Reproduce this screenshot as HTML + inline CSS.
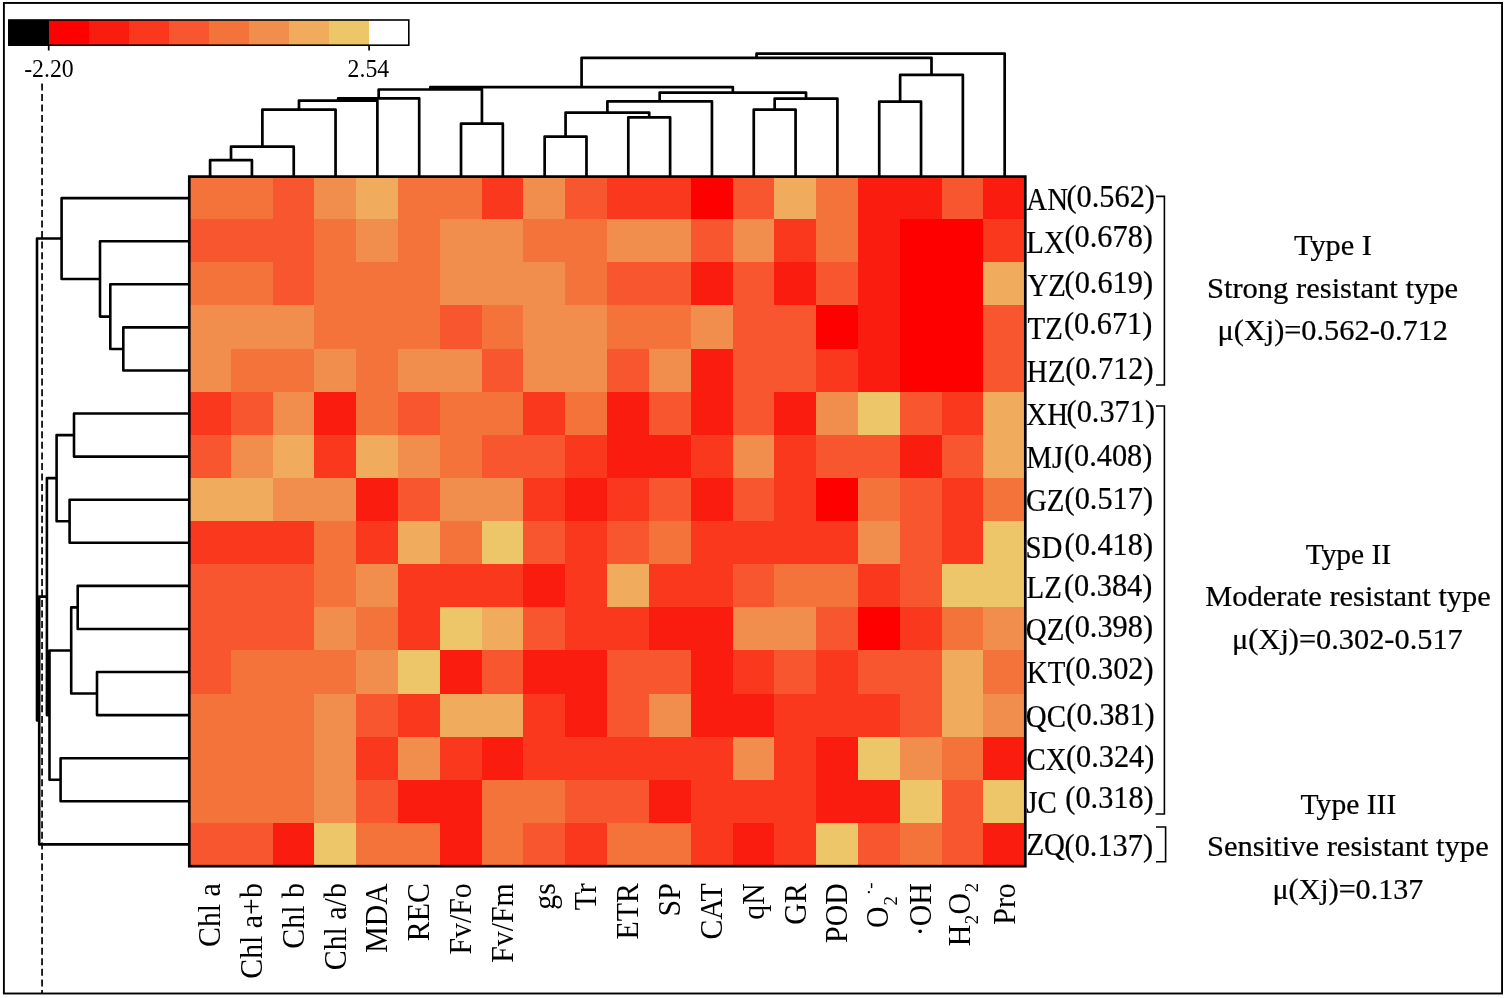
<!DOCTYPE html>
<html lang="en">
<head>
<meta charset="utf-8">
<title>Cluster heat map</title>
<style>html,body{margin:0;padding:0;background:#fff}svg{display:block}text{white-space:pre}</style>
</head>
<body>
<svg width="1505" height="998" viewBox="0 0 1505 998" font-family='"Liberation Serif", "DejaVu Serif", serif' fill="#000">
<rect x="0" y="0" width="1505" height="998" fill="#fff"/>
<rect x="3.9" y="2.95" width="1498.15" height="990.55" fill="none" stroke="#000" stroke-width="1.9"/>
<g shape-rendering="crispEdges">
<rect x="8.43" y="20.0" width="40.37" height="25.20" fill="#000000"/>
<rect x="48.50" y="20.0" width="40.37" height="25.20" fill="#ff0000"/>
<rect x="88.57" y="20.0" width="40.37" height="25.20" fill="#fb1c10"/>
<rect x="128.64" y="20.0" width="40.37" height="25.20" fill="#fa381e"/>
<rect x="168.71" y="20.0" width="40.37" height="25.20" fill="#f7562e"/>
<rect x="208.78" y="20.0" width="40.37" height="25.20" fill="#f4733b"/>
<rect x="248.86" y="20.0" width="40.37" height="25.20" fill="#f28e4d"/>
<rect x="288.93" y="20.0" width="40.37" height="25.20" fill="#f1ab5c"/>
<rect x="329.00" y="20.0" width="40.37" height="25.20" fill="#edc669"/>
<rect x="369.07" y="20.0" width="40.37" height="25.20" fill="#ffffff"/>
</g>
<rect x="8.9" y="20.0" width="399.90" height="25.20" fill="none" stroke="#000" stroke-width="1.6"/>
<path d="M48.7 45.2V50.6M369.1 45.2V50.6" stroke="#000" stroke-width="1.7" fill="none"/>
<text transform="translate(24.20 76.75) scale(0.915 1)" font-size="26.0">-2.20</text>
<text transform="translate(347.60 76.75) scale(0.915 1)" font-size="26.0">2.54</text>
<path d="M42.05 83.5V994" stroke="#000" stroke-width="1.7" stroke-dasharray="7 3.54" fill="none"/>
<g shape-rendering="crispEdges">
<rect x="189.00" y="176.00" width="84.12" height="43.63" fill="#f4733b"/>
<rect x="272.62" y="176.00" width="42.31" height="43.63" fill="#f7562e"/>
<rect x="314.43" y="176.00" width="42.31" height="43.63" fill="#f28e4d"/>
<rect x="356.24" y="176.00" width="42.31" height="43.63" fill="#f1ab5c"/>
<rect x="398.05" y="176.00" width="84.12" height="43.63" fill="#f4733b"/>
<rect x="481.67" y="176.00" width="42.31" height="43.63" fill="#fa381e"/>
<rect x="523.48" y="176.00" width="42.31" height="43.63" fill="#f28e4d"/>
<rect x="565.29" y="176.00" width="42.31" height="43.63" fill="#f7562e"/>
<rect x="607.10" y="176.00" width="84.12" height="43.63" fill="#fa381e"/>
<rect x="690.72" y="176.00" width="42.31" height="43.63" fill="#ff0000"/>
<rect x="732.53" y="176.00" width="42.31" height="43.63" fill="#f7562e"/>
<rect x="774.34" y="176.00" width="42.31" height="43.63" fill="#f1ab5c"/>
<rect x="816.15" y="176.00" width="42.31" height="43.63" fill="#f4733b"/>
<rect x="857.96" y="176.00" width="84.12" height="43.63" fill="#fb1c10"/>
<rect x="941.58" y="176.00" width="42.31" height="43.63" fill="#f7562e"/>
<rect x="983.39" y="176.00" width="42.31" height="43.63" fill="#fb1c10"/>
<rect x="189.00" y="219.13" width="125.93" height="43.63" fill="#f7562e"/>
<rect x="314.43" y="219.13" width="42.31" height="43.63" fill="#f4733b"/>
<rect x="356.24" y="219.13" width="42.31" height="43.63" fill="#f28e4d"/>
<rect x="398.05" y="219.13" width="42.31" height="43.63" fill="#f4733b"/>
<rect x="439.86" y="219.13" width="84.12" height="43.63" fill="#f28e4d"/>
<rect x="523.48" y="219.13" width="84.12" height="43.63" fill="#f4733b"/>
<rect x="607.10" y="219.13" width="84.12" height="43.63" fill="#f28e4d"/>
<rect x="690.72" y="219.13" width="42.31" height="43.63" fill="#f7562e"/>
<rect x="732.53" y="219.13" width="42.31" height="43.63" fill="#f28e4d"/>
<rect x="774.34" y="219.13" width="42.31" height="43.63" fill="#fa381e"/>
<rect x="816.15" y="219.13" width="42.31" height="43.63" fill="#f4733b"/>
<rect x="857.96" y="219.13" width="42.31" height="43.63" fill="#fb1c10"/>
<rect x="899.77" y="219.13" width="84.12" height="43.63" fill="#ff0000"/>
<rect x="983.39" y="219.13" width="42.31" height="43.63" fill="#fa381e"/>
<rect x="189.00" y="262.26" width="84.12" height="43.63" fill="#f4733b"/>
<rect x="272.62" y="262.26" width="42.31" height="43.63" fill="#f7562e"/>
<rect x="314.43" y="262.26" width="125.93" height="43.63" fill="#f4733b"/>
<rect x="439.86" y="262.26" width="125.93" height="43.63" fill="#f28e4d"/>
<rect x="565.29" y="262.26" width="42.31" height="43.63" fill="#f4733b"/>
<rect x="607.10" y="262.26" width="84.12" height="43.63" fill="#f7562e"/>
<rect x="690.72" y="262.26" width="42.31" height="43.63" fill="#fb1c10"/>
<rect x="732.53" y="262.26" width="42.31" height="43.63" fill="#f7562e"/>
<rect x="774.34" y="262.26" width="42.31" height="43.63" fill="#fb1c10"/>
<rect x="816.15" y="262.26" width="42.31" height="43.63" fill="#f7562e"/>
<rect x="857.96" y="262.26" width="42.31" height="43.63" fill="#fb1c10"/>
<rect x="899.77" y="262.26" width="84.12" height="43.63" fill="#ff0000"/>
<rect x="983.39" y="262.26" width="42.31" height="43.63" fill="#f1ab5c"/>
<rect x="189.00" y="305.39" width="125.93" height="43.63" fill="#f28e4d"/>
<rect x="314.43" y="305.39" width="125.93" height="43.63" fill="#f4733b"/>
<rect x="439.86" y="305.39" width="42.31" height="43.63" fill="#f7562e"/>
<rect x="481.67" y="305.39" width="42.31" height="43.63" fill="#f4733b"/>
<rect x="523.48" y="305.39" width="84.12" height="43.63" fill="#f28e4d"/>
<rect x="607.10" y="305.39" width="84.12" height="43.63" fill="#f4733b"/>
<rect x="690.72" y="305.39" width="42.31" height="43.63" fill="#f28e4d"/>
<rect x="732.53" y="305.39" width="84.12" height="43.63" fill="#f7562e"/>
<rect x="816.15" y="305.39" width="42.31" height="43.63" fill="#ff0000"/>
<rect x="857.96" y="305.39" width="42.31" height="43.63" fill="#fb1c10"/>
<rect x="899.77" y="305.39" width="84.12" height="43.63" fill="#ff0000"/>
<rect x="983.39" y="305.39" width="42.31" height="43.63" fill="#f7562e"/>
<rect x="189.00" y="348.52" width="42.31" height="43.63" fill="#f28e4d"/>
<rect x="230.81" y="348.52" width="84.12" height="43.63" fill="#f4733b"/>
<rect x="314.43" y="348.52" width="42.31" height="43.63" fill="#f28e4d"/>
<rect x="356.24" y="348.52" width="42.31" height="43.63" fill="#f4733b"/>
<rect x="398.05" y="348.52" width="84.12" height="43.63" fill="#f28e4d"/>
<rect x="481.67" y="348.52" width="42.31" height="43.63" fill="#f7562e"/>
<rect x="523.48" y="348.52" width="84.12" height="43.63" fill="#f28e4d"/>
<rect x="607.10" y="348.52" width="42.31" height="43.63" fill="#f7562e"/>
<rect x="648.91" y="348.52" width="42.31" height="43.63" fill="#f28e4d"/>
<rect x="690.72" y="348.52" width="42.31" height="43.63" fill="#fb1c10"/>
<rect x="732.53" y="348.52" width="84.12" height="43.63" fill="#f7562e"/>
<rect x="816.15" y="348.52" width="42.31" height="43.63" fill="#fa381e"/>
<rect x="857.96" y="348.52" width="42.31" height="43.63" fill="#fb1c10"/>
<rect x="899.77" y="348.52" width="84.12" height="43.63" fill="#ff0000"/>
<rect x="983.39" y="348.52" width="42.31" height="43.63" fill="#f7562e"/>
<rect x="189.00" y="391.66" width="42.31" height="43.63" fill="#fa381e"/>
<rect x="230.81" y="391.66" width="42.31" height="43.63" fill="#f7562e"/>
<rect x="272.62" y="391.66" width="42.31" height="43.63" fill="#f28e4d"/>
<rect x="314.43" y="391.66" width="42.31" height="43.63" fill="#fb1c10"/>
<rect x="356.24" y="391.66" width="42.31" height="43.63" fill="#f4733b"/>
<rect x="398.05" y="391.66" width="42.31" height="43.63" fill="#f7562e"/>
<rect x="439.86" y="391.66" width="84.12" height="43.63" fill="#f4733b"/>
<rect x="523.48" y="391.66" width="42.31" height="43.63" fill="#fa381e"/>
<rect x="565.29" y="391.66" width="42.31" height="43.63" fill="#f4733b"/>
<rect x="607.10" y="391.66" width="42.31" height="43.63" fill="#fb1c10"/>
<rect x="648.91" y="391.66" width="42.31" height="43.63" fill="#f7562e"/>
<rect x="690.72" y="391.66" width="42.31" height="43.63" fill="#fb1c10"/>
<rect x="732.53" y="391.66" width="42.31" height="43.63" fill="#f7562e"/>
<rect x="774.34" y="391.66" width="42.31" height="43.63" fill="#fb1c10"/>
<rect x="816.15" y="391.66" width="42.31" height="43.63" fill="#f28e4d"/>
<rect x="857.96" y="391.66" width="42.31" height="43.63" fill="#edc669"/>
<rect x="899.77" y="391.66" width="42.31" height="43.63" fill="#f7562e"/>
<rect x="941.58" y="391.66" width="42.31" height="43.63" fill="#fa381e"/>
<rect x="983.39" y="391.66" width="42.31" height="43.63" fill="#f1ab5c"/>
<rect x="189.00" y="434.79" width="42.31" height="43.63" fill="#f7562e"/>
<rect x="230.81" y="434.79" width="42.31" height="43.63" fill="#f28e4d"/>
<rect x="272.62" y="434.79" width="42.31" height="43.63" fill="#f1ab5c"/>
<rect x="314.43" y="434.79" width="42.31" height="43.63" fill="#fa381e"/>
<rect x="356.24" y="434.79" width="42.31" height="43.63" fill="#f1ab5c"/>
<rect x="398.05" y="434.79" width="42.31" height="43.63" fill="#f28e4d"/>
<rect x="439.86" y="434.79" width="42.31" height="43.63" fill="#f4733b"/>
<rect x="481.67" y="434.79" width="84.12" height="43.63" fill="#f7562e"/>
<rect x="565.29" y="434.79" width="42.31" height="43.63" fill="#fa381e"/>
<rect x="607.10" y="434.79" width="84.12" height="43.63" fill="#fb1c10"/>
<rect x="690.72" y="434.79" width="42.31" height="43.63" fill="#fa381e"/>
<rect x="732.53" y="434.79" width="42.31" height="43.63" fill="#f28e4d"/>
<rect x="774.34" y="434.79" width="42.31" height="43.63" fill="#fa381e"/>
<rect x="816.15" y="434.79" width="84.12" height="43.63" fill="#f7562e"/>
<rect x="899.77" y="434.79" width="42.31" height="43.63" fill="#fb1c10"/>
<rect x="941.58" y="434.79" width="42.31" height="43.63" fill="#f7562e"/>
<rect x="983.39" y="434.79" width="42.31" height="43.63" fill="#f1ab5c"/>
<rect x="189.00" y="477.92" width="84.12" height="43.63" fill="#f1ab5c"/>
<rect x="272.62" y="477.92" width="84.12" height="43.63" fill="#f28e4d"/>
<rect x="356.24" y="477.92" width="42.31" height="43.63" fill="#fb1c10"/>
<rect x="398.05" y="477.92" width="42.31" height="43.63" fill="#f7562e"/>
<rect x="439.86" y="477.92" width="84.12" height="43.63" fill="#f28e4d"/>
<rect x="523.48" y="477.92" width="42.31" height="43.63" fill="#fa381e"/>
<rect x="565.29" y="477.92" width="42.31" height="43.63" fill="#fb1c10"/>
<rect x="607.10" y="477.92" width="42.31" height="43.63" fill="#fa381e"/>
<rect x="648.91" y="477.92" width="42.31" height="43.63" fill="#f7562e"/>
<rect x="690.72" y="477.92" width="42.31" height="43.63" fill="#fb1c10"/>
<rect x="732.53" y="477.92" width="42.31" height="43.63" fill="#f7562e"/>
<rect x="774.34" y="477.92" width="42.31" height="43.63" fill="#fa381e"/>
<rect x="816.15" y="477.92" width="42.31" height="43.63" fill="#ff0000"/>
<rect x="857.96" y="477.92" width="42.31" height="43.63" fill="#f4733b"/>
<rect x="899.77" y="477.92" width="42.31" height="43.63" fill="#f7562e"/>
<rect x="941.58" y="477.92" width="42.31" height="43.63" fill="#fa381e"/>
<rect x="983.39" y="477.92" width="42.31" height="43.63" fill="#f4733b"/>
<rect x="189.00" y="521.05" width="125.93" height="43.63" fill="#fa381e"/>
<rect x="314.43" y="521.05" width="42.31" height="43.63" fill="#f4733b"/>
<rect x="356.24" y="521.05" width="42.31" height="43.63" fill="#fa381e"/>
<rect x="398.05" y="521.05" width="42.31" height="43.63" fill="#f1ab5c"/>
<rect x="439.86" y="521.05" width="42.31" height="43.63" fill="#f4733b"/>
<rect x="481.67" y="521.05" width="42.31" height="43.63" fill="#edc669"/>
<rect x="523.48" y="521.05" width="42.31" height="43.63" fill="#f7562e"/>
<rect x="565.29" y="521.05" width="42.31" height="43.63" fill="#fa381e"/>
<rect x="607.10" y="521.05" width="42.31" height="43.63" fill="#f7562e"/>
<rect x="648.91" y="521.05" width="42.31" height="43.63" fill="#f4733b"/>
<rect x="690.72" y="521.05" width="167.74" height="43.63" fill="#fa381e"/>
<rect x="857.96" y="521.05" width="42.31" height="43.63" fill="#f28e4d"/>
<rect x="899.77" y="521.05" width="42.31" height="43.63" fill="#f7562e"/>
<rect x="941.58" y="521.05" width="42.31" height="43.63" fill="#fa381e"/>
<rect x="983.39" y="521.05" width="42.31" height="43.63" fill="#edc669"/>
<rect x="189.00" y="564.18" width="125.93" height="43.63" fill="#f7562e"/>
<rect x="314.43" y="564.18" width="42.31" height="43.63" fill="#f4733b"/>
<rect x="356.24" y="564.18" width="42.31" height="43.63" fill="#f28e4d"/>
<rect x="398.05" y="564.18" width="125.93" height="43.63" fill="#fa381e"/>
<rect x="523.48" y="564.18" width="42.31" height="43.63" fill="#fb1c10"/>
<rect x="565.29" y="564.18" width="42.31" height="43.63" fill="#fa381e"/>
<rect x="607.10" y="564.18" width="42.31" height="43.63" fill="#f1ab5c"/>
<rect x="648.91" y="564.18" width="84.12" height="43.63" fill="#fa381e"/>
<rect x="732.53" y="564.18" width="42.31" height="43.63" fill="#f7562e"/>
<rect x="774.34" y="564.18" width="84.12" height="43.63" fill="#f4733b"/>
<rect x="857.96" y="564.18" width="42.31" height="43.63" fill="#fa381e"/>
<rect x="899.77" y="564.18" width="42.31" height="43.63" fill="#f7562e"/>
<rect x="941.58" y="564.18" width="84.12" height="43.63" fill="#edc669"/>
<rect x="189.00" y="607.31" width="125.93" height="43.63" fill="#f7562e"/>
<rect x="314.43" y="607.31" width="42.31" height="43.63" fill="#f28e4d"/>
<rect x="356.24" y="607.31" width="42.31" height="43.63" fill="#f4733b"/>
<rect x="398.05" y="607.31" width="42.31" height="43.63" fill="#fa381e"/>
<rect x="439.86" y="607.31" width="42.31" height="43.63" fill="#edc669"/>
<rect x="481.67" y="607.31" width="42.31" height="43.63" fill="#f1ab5c"/>
<rect x="523.48" y="607.31" width="42.31" height="43.63" fill="#f7562e"/>
<rect x="565.29" y="607.31" width="84.12" height="43.63" fill="#fa381e"/>
<rect x="648.91" y="607.31" width="84.12" height="43.63" fill="#fb1c10"/>
<rect x="732.53" y="607.31" width="84.12" height="43.63" fill="#f28e4d"/>
<rect x="816.15" y="607.31" width="42.31" height="43.63" fill="#f7562e"/>
<rect x="857.96" y="607.31" width="42.31" height="43.63" fill="#ff0000"/>
<rect x="899.77" y="607.31" width="42.31" height="43.63" fill="#fa381e"/>
<rect x="941.58" y="607.31" width="42.31" height="43.63" fill="#f4733b"/>
<rect x="983.39" y="607.31" width="42.31" height="43.63" fill="#f28e4d"/>
<rect x="189.00" y="650.44" width="42.31" height="43.63" fill="#f7562e"/>
<rect x="230.81" y="650.44" width="125.93" height="43.63" fill="#f4733b"/>
<rect x="356.24" y="650.44" width="42.31" height="43.63" fill="#f28e4d"/>
<rect x="398.05" y="650.44" width="42.31" height="43.63" fill="#edc669"/>
<rect x="439.86" y="650.44" width="42.31" height="43.63" fill="#fb1c10"/>
<rect x="481.67" y="650.44" width="42.31" height="43.63" fill="#f7562e"/>
<rect x="523.48" y="650.44" width="84.12" height="43.63" fill="#fb1c10"/>
<rect x="607.10" y="650.44" width="84.12" height="43.63" fill="#f7562e"/>
<rect x="690.72" y="650.44" width="42.31" height="43.63" fill="#fb1c10"/>
<rect x="732.53" y="650.44" width="42.31" height="43.63" fill="#fa381e"/>
<rect x="774.34" y="650.44" width="42.31" height="43.63" fill="#f7562e"/>
<rect x="816.15" y="650.44" width="42.31" height="43.63" fill="#fa381e"/>
<rect x="857.96" y="650.44" width="84.12" height="43.63" fill="#f7562e"/>
<rect x="941.58" y="650.44" width="42.31" height="43.63" fill="#f1ab5c"/>
<rect x="983.39" y="650.44" width="42.31" height="43.63" fill="#f4733b"/>
<rect x="189.00" y="693.58" width="125.93" height="43.63" fill="#f4733b"/>
<rect x="314.43" y="693.58" width="42.31" height="43.63" fill="#f28e4d"/>
<rect x="356.24" y="693.58" width="42.31" height="43.63" fill="#f7562e"/>
<rect x="398.05" y="693.58" width="42.31" height="43.63" fill="#fa381e"/>
<rect x="439.86" y="693.58" width="84.12" height="43.63" fill="#f1ab5c"/>
<rect x="523.48" y="693.58" width="42.31" height="43.63" fill="#fa381e"/>
<rect x="565.29" y="693.58" width="42.31" height="43.63" fill="#fb1c10"/>
<rect x="607.10" y="693.58" width="42.31" height="43.63" fill="#f7562e"/>
<rect x="648.91" y="693.58" width="42.31" height="43.63" fill="#f28e4d"/>
<rect x="690.72" y="693.58" width="84.12" height="43.63" fill="#fb1c10"/>
<rect x="774.34" y="693.58" width="125.93" height="43.63" fill="#fa381e"/>
<rect x="899.77" y="693.58" width="42.31" height="43.63" fill="#f7562e"/>
<rect x="941.58" y="693.58" width="42.31" height="43.63" fill="#f1ab5c"/>
<rect x="983.39" y="693.58" width="42.31" height="43.63" fill="#f28e4d"/>
<rect x="189.00" y="736.71" width="125.93" height="43.63" fill="#f4733b"/>
<rect x="314.43" y="736.71" width="42.31" height="43.63" fill="#f28e4d"/>
<rect x="356.24" y="736.71" width="42.31" height="43.63" fill="#fa381e"/>
<rect x="398.05" y="736.71" width="42.31" height="43.63" fill="#f28e4d"/>
<rect x="439.86" y="736.71" width="42.31" height="43.63" fill="#fa381e"/>
<rect x="481.67" y="736.71" width="42.31" height="43.63" fill="#fb1c10"/>
<rect x="523.48" y="736.71" width="209.55" height="43.63" fill="#fa381e"/>
<rect x="732.53" y="736.71" width="42.31" height="43.63" fill="#f28e4d"/>
<rect x="774.34" y="736.71" width="42.31" height="43.63" fill="#fa381e"/>
<rect x="816.15" y="736.71" width="42.31" height="43.63" fill="#fb1c10"/>
<rect x="857.96" y="736.71" width="42.31" height="43.63" fill="#edc669"/>
<rect x="899.77" y="736.71" width="42.31" height="43.63" fill="#f28e4d"/>
<rect x="941.58" y="736.71" width="42.31" height="43.63" fill="#f4733b"/>
<rect x="983.39" y="736.71" width="42.31" height="43.63" fill="#fb1c10"/>
<rect x="189.00" y="779.84" width="125.93" height="43.63" fill="#f4733b"/>
<rect x="314.43" y="779.84" width="42.31" height="43.63" fill="#f28e4d"/>
<rect x="356.24" y="779.84" width="42.31" height="43.63" fill="#f7562e"/>
<rect x="398.05" y="779.84" width="84.12" height="43.63" fill="#fb1c10"/>
<rect x="481.67" y="779.84" width="84.12" height="43.63" fill="#f4733b"/>
<rect x="565.29" y="779.84" width="84.12" height="43.63" fill="#f7562e"/>
<rect x="648.91" y="779.84" width="42.31" height="43.63" fill="#fb1c10"/>
<rect x="690.72" y="779.84" width="125.93" height="43.63" fill="#fa381e"/>
<rect x="816.15" y="779.84" width="84.12" height="43.63" fill="#fb1c10"/>
<rect x="899.77" y="779.84" width="42.31" height="43.63" fill="#edc669"/>
<rect x="941.58" y="779.84" width="42.31" height="43.63" fill="#f7562e"/>
<rect x="983.39" y="779.84" width="42.31" height="43.63" fill="#edc669"/>
<rect x="189.00" y="822.97" width="84.12" height="43.63" fill="#f7562e"/>
<rect x="272.62" y="822.97" width="42.31" height="43.63" fill="#fb1c10"/>
<rect x="314.43" y="822.97" width="42.31" height="43.63" fill="#edc669"/>
<rect x="356.24" y="822.97" width="84.12" height="43.63" fill="#f4733b"/>
<rect x="439.86" y="822.97" width="42.31" height="43.63" fill="#fb1c10"/>
<rect x="481.67" y="822.97" width="42.31" height="43.63" fill="#f4733b"/>
<rect x="523.48" y="822.97" width="42.31" height="43.63" fill="#f7562e"/>
<rect x="565.29" y="822.97" width="42.31" height="43.63" fill="#fa381e"/>
<rect x="607.10" y="822.97" width="84.12" height="43.63" fill="#f4733b"/>
<rect x="690.72" y="822.97" width="42.31" height="43.63" fill="#fa381e"/>
<rect x="732.53" y="822.97" width="42.31" height="43.63" fill="#fb1c10"/>
<rect x="774.34" y="822.97" width="42.31" height="43.63" fill="#fa381e"/>
<rect x="816.15" y="822.97" width="42.31" height="43.63" fill="#edc669"/>
<rect x="857.96" y="822.97" width="42.31" height="43.63" fill="#f7562e"/>
<rect x="899.77" y="822.97" width="42.31" height="43.63" fill="#f4733b"/>
<rect x="941.58" y="822.97" width="42.31" height="43.63" fill="#f7562e"/>
<rect x="983.39" y="822.97" width="42.31" height="43.63" fill="#fb1c10"/>
</g>
<rect x="189.3" y="176.6" width="836.0" height="689.6" fill="none" stroke="#000" stroke-width="2.7"/>
<path d="M210.10 176.00V160.10H251.92V176.00M231.01 160.10V146.70H293.74V176.00M262.38 146.70V109.60H335.56V176.00M298.97 109.60V100.60H377.38V176.00M338.17 100.60V98.30H419.20V176.00M461.02 176.00V123.70H502.84V176.00M378.69 98.30V89.50H481.93V123.70M544.66 176.00V136.60H586.48V176.00M628.30 176.00V117.30H670.12V176.00M565.57 136.60V112.60H649.21V117.30M607.39 112.60V101.30H711.94V176.00M753.76 176.00V109.70H795.58V176.00M774.67 109.70V98.60H837.40V176.00M659.66 101.30V92.70H806.04V98.60M430.31 89.50V87.20H732.85V92.70M879.22 176.00V101.70H921.04V176.00M900.13 101.70V74.90H962.86V176.00M581.58 87.20V57.80H931.50V74.90M756.54 57.80V53.60H1004.68V176.00" fill="none" stroke="#000" stroke-width="2.7" stroke-linejoin="round"/>
<path d="M189.00 327.39H123.30V370.47H189.00M189.00 284.31H110.30V348.93H123.30M189.00 241.23H100.00V316.62H110.30M189.00 198.15H61.60V278.93H100.00M189.00 413.55H74.00V456.63H189.00M189.00 499.71H69.60V542.79H189.00M74.00 435.09H56.60V521.25H69.60M189.00 585.87H77.70V628.95H189.00M189.00 672.03H97.00V715.11H189.00M77.70 607.41H71.20V693.57H97.00M189.00 758.19H60.60V801.27H189.00M71.20 650.49H49.50V779.73H60.60M56.60 478.17H46.90V715.11H49.50M46.90 596.64H39.20V844.35H189.00M61.60 238.54H37.00V720.49H39.20" fill="none" stroke="#000" stroke-width="2.6" stroke-linejoin="round"/>
<text transform="translate(1026.30 209.80) scale(0.925 1)" font-size="31.2" stroke="#000" stroke-width="0.24">AN</text>
<text transform="translate(1066.50 206.60) scale(0.978 1)" font-size="31" stroke="#000" stroke-width="0.24">(0.562)</text>
<text transform="translate(1026.30 252.70) scale(0.925 1)" font-size="31.2" stroke="#000" stroke-width="0.24">LX</text>
<text transform="translate(1064.50 246.50) scale(0.978 1)" font-size="31" stroke="#000" stroke-width="0.24">(0.678)</text>
<text transform="translate(1027.50 296.00) scale(0.925 1)" font-size="31.2" stroke="#000" stroke-width="0.24">YZ</text>
<text transform="translate(1064.60 293.00) scale(0.978 1)" font-size="31" stroke="#000" stroke-width="0.24">(0.619)</text>
<text transform="translate(1027.50 338.90) scale(0.925 1)" font-size="31.2" stroke="#000" stroke-width="0.24">TZ</text>
<text transform="translate(1063.90 333.70) scale(0.978 1)" font-size="31" stroke="#000" stroke-width="0.24">(0.671)</text>
<text transform="translate(1026.80 381.90) scale(0.925 1)" font-size="31.2" stroke="#000" stroke-width="0.24">HZ</text>
<text transform="translate(1065.20 379.00) scale(0.978 1)" font-size="31" stroke="#000" stroke-width="0.24">(0.712)</text>
<text transform="translate(1026.30 425.00) scale(0.925 1)" font-size="31.2" stroke="#000" stroke-width="0.24">XH</text>
<text transform="translate(1066.60 421.70) scale(0.978 1)" font-size="31" stroke="#000" stroke-width="0.24">(0.371)</text>
<text transform="translate(1026.30 468.30) scale(0.925 1)" font-size="31.2" stroke="#000" stroke-width="0.24">MJ</text>
<text transform="translate(1063.90 465.80) scale(0.978 1)" font-size="31" stroke="#000" stroke-width="0.24">(0.408)</text>
<text transform="translate(1026.00 511.00) scale(0.925 1)" font-size="31.2" stroke="#000" stroke-width="0.24">GZ</text>
<text transform="translate(1064.60 508.70) scale(0.978 1)" font-size="31" stroke="#000" stroke-width="0.24">(0.517)</text>
<text transform="translate(1025.50 558.30) scale(0.925 1)" font-size="31.2" stroke="#000" stroke-width="0.24">SD</text>
<text transform="translate(1064.60 555.00) scale(0.978 1)" font-size="31" stroke="#000" stroke-width="0.24">(0.418)</text>
<text transform="translate(1026.50 597.60) scale(0.925 1)" font-size="31.2" stroke="#000" stroke-width="0.24">LZ</text>
<text transform="translate(1063.90 596.00) scale(0.978 1)" font-size="31" stroke="#000" stroke-width="0.24">(0.384)</text>
<text transform="translate(1025.80 640.30) scale(0.925 1)" font-size="31.2" stroke="#000" stroke-width="0.24">QZ</text>
<text transform="translate(1064.60 637.40) scale(0.978 1)" font-size="31" stroke="#000" stroke-width="0.24">(0.398)</text>
<text transform="translate(1026.80 683.30) scale(0.925 1)" font-size="31.2" stroke="#000" stroke-width="0.24">KT</text>
<text transform="translate(1065.20 679.00) scale(0.978 1)" font-size="31" stroke="#000" stroke-width="0.24">(0.302)</text>
<text transform="translate(1025.80 727.30) scale(0.925 1)" font-size="31.2" stroke="#000" stroke-width="0.24">QC</text>
<text transform="translate(1066.30 724.80) scale(0.978 1)" font-size="31" stroke="#000" stroke-width="0.24">(0.381)</text>
<text transform="translate(1026.50 770.00) scale(0.925 1)" font-size="31.2" stroke="#000" stroke-width="0.24">CX</text>
<text transform="translate(1065.90 766.80) scale(0.978 1)" font-size="31" stroke="#000" stroke-width="0.24">(0.324)</text>
<text transform="translate(1026.30 812.60) scale(0.925 1)" font-size="31.2" stroke="#000" stroke-width="0.24">JC</text>
<text transform="translate(1065.30 808.40) scale(0.978 1)" font-size="31" stroke="#000" stroke-width="0.24">(0.318)</text>
<text transform="translate(1026.40 855.30) scale(0.925 1)" font-size="31.2" stroke="#000" stroke-width="0.24">ZQ</text>
<text transform="translate(1064.60 855.60) scale(0.978 1)" font-size="31" stroke="#000" stroke-width="0.24">(0.137)</text>
<path d="M1156 196.4H1164.4V385H1156M1156 406H1164.4V814H1155.6M1156 827H1165.6V861.7H1156" fill="none" stroke="#000" stroke-width="1.6"/>
<text transform="translate(1294.00 254.90) scale(1.012 1)" font-size="30" stroke="#000" stroke-width="0.24">Type I</text>
<text transform="translate(1206.90 297.70) scale(1.019 1)" font-size="30" stroke="#000" stroke-width="0.24">Strong resistant type</text>
<text transform="translate(1217.40 340.40) scale(1.012 1)" font-size="30" stroke="#000" stroke-width="0.24">μ(Xj)=0.562-0.712</text>
<text transform="translate(1305.70 563.50) scale(0.982 1)" font-size="30" stroke="#000" stroke-width="0.24">Type II</text>
<text transform="translate(1205.30 605.70) scale(1.014 1)" font-size="30" stroke="#000" stroke-width="0.24">Moderate resistant type</text>
<text transform="translate(1232.10 648.90) scale(1.012 1)" font-size="30" stroke="#000" stroke-width="0.24">μ(Xj)=0.302-0.517</text>
<text transform="translate(1300.60 813.90) scale(0.986 1)" font-size="30" stroke="#000" stroke-width="0.24">Type III</text>
<text transform="translate(1207.00 856.10) scale(1.019 1)" font-size="30" stroke="#000" stroke-width="0.24">Sensitive resistant type</text>
<text transform="translate(1272.50 898.90) scale(1.002 1)" font-size="30" stroke="#000" stroke-width="0.24">μ(Xj)=0.137</text>
<text transform="translate(220.10 883.20) rotate(-90) scale(0.966 1)" font-size="30.9" text-anchor="end">Chl a</text>
<text transform="translate(261.92 883.20) rotate(-90) scale(0.966 1)" font-size="30.9" text-anchor="end">Chl a+b</text>
<text transform="translate(303.74 883.20) rotate(-90) scale(0.966 1)" font-size="30.9" text-anchor="end">Chl b</text>
<text transform="translate(345.56 883.20) rotate(-90) scale(0.966 1)" font-size="30.9" text-anchor="end">Chl a/b</text>
<text transform="translate(387.38 883.20) rotate(-90) scale(0.966 1)" font-size="30.9" text-anchor="end">MDA</text>
<text transform="translate(429.20 883.20) rotate(-90) scale(0.966 1)" font-size="30.9" text-anchor="end">REC</text>
<text transform="translate(471.02 883.20) rotate(-90) scale(0.966 1)" font-size="30.9" text-anchor="end">Fv/Fo</text>
<text transform="translate(512.84 883.20) rotate(-90) scale(0.966 1)" font-size="30.9" text-anchor="end">Fv/Fm</text>
<text transform="translate(554.66 883.20) rotate(-90) scale(0.966 1)" font-size="30.9" text-anchor="end">gs</text>
<text transform="translate(596.48 883.20) rotate(-90) scale(0.966 1)" font-size="30.9" text-anchor="end">Tr</text>
<text transform="translate(638.30 883.20) rotate(-90) scale(0.966 1)" font-size="30.9" text-anchor="end">ETR</text>
<text transform="translate(680.12 883.20) rotate(-90) scale(0.966 1)" font-size="30.9" text-anchor="end">SP</text>
<text transform="translate(721.94 883.20) rotate(-90) scale(0.966 1)" font-size="30.9" text-anchor="end">CAT</text>
<text transform="translate(763.76 883.20) rotate(-90) scale(0.966 1)" font-size="30.9" text-anchor="end">qN</text>
<text transform="translate(805.58 883.20) rotate(-90) scale(0.966 1)" font-size="30.9" text-anchor="end">GR</text>
<text transform="translate(847.40 883.20) rotate(-90) scale(0.966 1)" font-size="30.9" text-anchor="end">POD</text>
<text transform="translate(931.04 883.20) rotate(-90) scale(0.966 1)" font-size="30.9" text-anchor="end">·OH</text>
<text transform="translate(1014.68 883.20) rotate(-90) scale(0.966 1)" font-size="30.9" text-anchor="end">Pro</text>
<text transform="translate(888.30 883.20) rotate(-90) scale(0.966 1)" font-size="30.9"><tspan x="-46.45" y="0.00">O</tspan><tspan x="-23.20" y="8.30" font-size="19.5">2</tspan><tspan x="-12.40" y="-12.85" font-size="19.5">·</tspan><tspan x="-5.65" y="-12.70" font-size="19.5">-</tspan></text>
<text transform="translate(969.70 883.20) rotate(-90) scale(0.966 1)" font-size="30.9"><tspan x="-65.30" y="0.00">H</tspan><tspan x="-42.50" y="8.70" font-size="19.5">2</tspan><tspan x="-32.30" y="0.00" font-size="30.9">O</tspan><tspan x="-9.26" y="8.70" font-size="19.5">2</tspan></text>
</svg>
</body>
</html>
